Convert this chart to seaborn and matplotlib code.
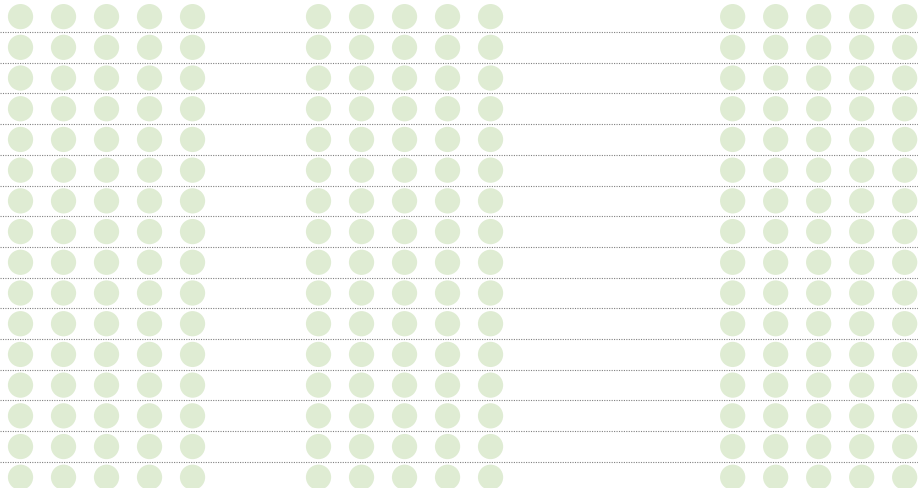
import numpy as np
import pandas as pd
import matplotlib
matplotlib.use("Agg")
import matplotlib.pyplot as plt
import seaborn as sns

# waffle-style dot grid: three groups of 5 columns, 16 rows each
groups = ["A", "B", "C"]
group_start = [0.0, 6.93, 16.56]   # column position of each group's first column
cols_per_group = [5, 5, 5]
n_rows = 16

rows = []
for g, start, ncol in zip(groups, group_start, cols_per_group):
    for c in range(ncol):
        for r in range(n_rows):
            rows.append({"group": g, "x": start + c, "y": r})
df = pd.DataFrame(rows)

sns.set_style("white")
fig = plt.figure(figsize=(9.18, 4.89), dpi=100)
ax = fig.add_axes([0, 0, 1, 1])

# dotted separators between rows
for r in range(n_rows - 1):
    ax.axhline(r + 0.5, color="#808080", linestyle=(0, (1, 1.2)), linewidth=0.8, zorder=1)

sns.scatterplot(data=df, x="x", y="y", color="#dfecd3", s=330, edgecolor="none",
                legend=False, ax=ax, zorder=2)

ax.set_xlim(-0.477, 20.87)
ax.set_ylim(15.35, -0.574)
ax.axis("off")

fig.savefig("out.png", dpi=100)
